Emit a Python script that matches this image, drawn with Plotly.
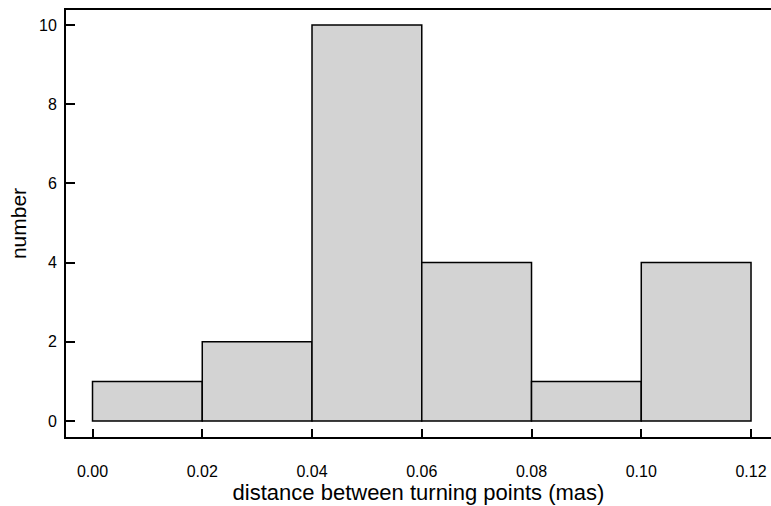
import plotly.graph_objects as go

bin_left = [0.00, 0.02, 0.04, 0.06, 0.08, 0.10]
bin_width = 0.02
counts = [1, 2, 10, 4, 1, 4]
x_ticks = [0.00, 0.02, 0.04, 0.06, 0.08, 0.10, 0.12]
x_tick_labels = ["0.00", "0.02", "0.04", "0.06", "0.08", "0.10", "0.12"]
y_ticks = [0, 2, 4, 6, 8, 10]

centers = [b + bin_width / 2 for b in bin_left]

fig = go.Figure(go.Bar(
    x=centers, y=counts, width=[bin_width] * len(counts),
    marker=dict(color="#d3d3d3", line=dict(color="black", width=1.5)),
))

font = "Liberation Sans, Arial, sans-serif"
fig.update_layout(
    width=771, height=506,
    margin=dict(l=66, r=0, t=10, b=69),
    plot_bgcolor="white", paper_bgcolor="white",
    showlegend=False,
    font=dict(family=font, color="black", size=16),
    xaxis=dict(
        range=[-0.00483, 0.12364], tickvals=x_ticks, ticktext=x_tick_labels,
        showline=True, linecolor="black", linewidth=2, mirror=True,
        ticks="inside", ticklen=8, tickwidth=1.5, tickcolor="black",
        showgrid=False, zeroline=False, ticklabelstandoff=19,
        tickfont=dict(size=16),
        title=dict(text="distance between turning points (mas)", font=dict(size=22), standoff=3),
    ),
    yaxis=dict(
        range=[-0.404, 10.379], tickvals=y_ticks,
        showline=True, linecolor="black", linewidth=2,
        ticks="inside", ticklen=9, tickwidth=1.5, tickcolor="black",
        showgrid=False, zeroline=False, ticklabelstandoff=4,
        tickfont=dict(size=16),
        title=dict(text="number", font=dict(size=21), standoff=7),
    ),
)

fig.write_html("out.html")
